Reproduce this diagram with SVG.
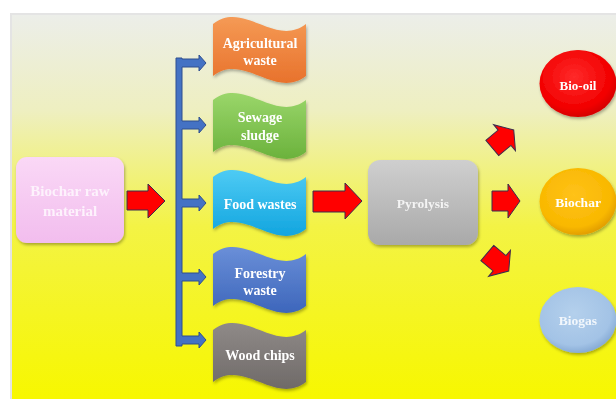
<svg xmlns="http://www.w3.org/2000/svg" width="616" height="399" viewBox="0 0 616 399">
<style>
.t{font-family:"Liberation Serif","Times New Roman",serif;font-weight:bold;fill:#ffffff;text-anchor:middle;dominant-baseline:central}
.ra{fill:#ff0000;stroke:#3b2d4f;stroke-width:1}
.ba{fill:#4472c4;stroke:#2f4f8f;stroke-width:1}
</style>
<defs>
<linearGradient id="bg" x1="0" y1="0" x2="0" y2="1">
<stop offset="0" stop-color="#eceee9"/>
<stop offset="0.25" stop-color="#eeefc0"/>
<stop offset="0.55" stop-color="#f3f345"/>
<stop offset="1" stop-color="#f7f700"/>
</linearGradient>
<linearGradient id="gPink" x1="0" y1="0" x2="0" y2="1"><stop offset="0" stop-color="#fad8f6"/><stop offset="1" stop-color="#f2bdee"/></linearGradient>
<linearGradient id="gGray" x1="0" y1="0" x2="0" y2="1"><stop offset="0" stop-color="#cfcfcf"/><stop offset="1" stop-color="#a9a9a9"/></linearGradient>
<linearGradient id="gOr" x1="0" y1="0" x2="0" y2="1"><stop offset="0" stop-color="#f59a55"/><stop offset="1" stop-color="#e8722c"/></linearGradient>
<linearGradient id="gGr" x1="0" y1="0" x2="0" y2="1"><stop offset="0" stop-color="#9ad66a"/><stop offset="1" stop-color="#6bb23c"/></linearGradient>
<linearGradient id="gCy" x1="0" y1="0" x2="0" y2="1"><stop offset="0" stop-color="#4ecbf4"/><stop offset="1" stop-color="#12a5df"/></linearGradient>
<linearGradient id="gBl" x1="0" y1="0" x2="0" y2="1"><stop offset="0" stop-color="#6a8fd8"/><stop offset="1" stop-color="#3d66bb"/></linearGradient>
<linearGradient id="gWd" x1="0" y1="0" x2="0" y2="1"><stop offset="0" stop-color="#8f8a88"/><stop offset="1" stop-color="#6f6a68"/></linearGradient>
<radialGradient id="gRed" cx="0.45" cy="0.4" r="0.6"><stop offset="0" stop-color="#ff2a2a"/><stop offset="0.8" stop-color="#f20000"/><stop offset="1" stop-color="#d60000"/></radialGradient>
<radialGradient id="gYel" cx="0.45" cy="0.4" r="0.6"><stop offset="0" stop-color="#ffc21a"/><stop offset="0.8" stop-color="#f9b800"/><stop offset="1" stop-color="#e39f00"/></radialGradient>
<radialGradient id="gSky" cx="0.45" cy="0.4" r="0.6"><stop offset="0" stop-color="#b4d0ec"/><stop offset="0.8" stop-color="#a3c3e6"/><stop offset="1" stop-color="#88acd6"/></radialGradient>
<filter id="sh" x="-20%" y="-20%" width="140%" height="150%"><feDropShadow dx="1" dy="2" stdDeviation="1.5" flood-color="#000" flood-opacity="0.3"/></filter>
<path id="flag" d="M-46.5,-26 C-15.5,-50 15.5,-2 46.5,-26 L46.5,26 C15.5,50 -15.5,2 -46.5,26 Z"/>
<path id="rarrow" d="M-14,-10 L2,-10 L2,-17 L14,0 L2,17 L2,10 L-14,10 Z"/>
</defs>
<rect x="0" y="0" width="616" height="399" fill="#ffffff"/>
<rect x="10" y="13" width="606" height="386" fill="#e4e4e4"/>
<rect x="12" y="15" width="604" height="384" fill="url(#bg)"/>
<g id="raw-material" filter="url(#sh)">
<rect x="16" y="157" width="108" height="86" rx="11" fill="url(#gPink)"/>
<text class="t" x="70" y="191" font-size="15" style="fill:#fdf2fc">Biochar raw</text>
<text class="t" x="70" y="211" font-size="15" style="fill:#fdf2fc">material</text>
</g>
<g id="agricultural-waste" filter="url(#sh)">
<use href="#flag" x="259.5" y="50" fill="url(#gOr)"/>
<text class="t" x="260" y="43" font-size="14">Agricultural</text>
<text class="t" x="260" y="60" font-size="14">waste</text>
</g>
<g id="sewage-sludge" filter="url(#sh)">
<use href="#flag" x="259.5" y="126" fill="url(#gGr)"/>
<text class="t" x="260" y="117" font-size="14">Sewage</text>
<text class="t" x="260" y="135" font-size="14">sludge</text>
</g>
<g id="food-wastes" filter="url(#sh)">
<use href="#flag" x="259.5" y="203" fill="url(#gCy)"/>
<text class="t" x="260" y="204" font-size="14">Food wastes</text>
</g>
<g id="forestry-waste" filter="url(#sh)">
<use href="#flag" x="259.5" y="280" fill="url(#gBl)"/>
<text class="t" x="260" y="273" font-size="14">Forestry</text>
<text class="t" x="260" y="290" font-size="14">waste</text>
</g>
<g id="wood-chips" filter="url(#sh)">
<use href="#flag" x="259.5" y="356" fill="url(#gWd)"/>
<text class="t" x="260" y="355" font-size="14">Wood chips</text>
</g>
<g id="pyrolysis" filter="url(#sh)">
<rect x="368" y="160" width="110" height="85" rx="12" fill="url(#gGray)"/>
<text class="t" x="423" y="203" font-size="13.5" style="fill:#f4f4f4">Pyrolysis</text>
</g>
<g id="bio-oil" filter="url(#sh)">
<ellipse cx="578" cy="83.5" rx="38.5" ry="33.5" fill="url(#gRed)"/>
<text class="t" x="578" y="85" font-size="13">Bio-oil</text>
</g>
<g id="biochar" filter="url(#sh)">
<ellipse cx="578" cy="201.5" rx="38.5" ry="33.5" fill="url(#gYel)"/>
<text class="t" x="578" y="202" font-size="13.5">Biochar</text>
</g>
<g id="biogas" filter="url(#sh)">
<ellipse cx="578" cy="320" rx="38.5" ry="33" fill="url(#gSky)"/>
<text class="t" x="578" y="320" font-size="13.5" style="fill:#f2f7fc">Biogas</text>
</g>
<g id="connectors">
<path class="ra" d="M127,191 L148,191 L148,184 L165,201 L148,218 L148,210 L127,210 Z"/>
<path class="ba" d="M176,58 L182,58 L182,59 L199,59 L199,55 L206,63 L199,71 L199,67 L182,67 L182,121 L199,121 L199,117 L206,125 L199,133 L199,129 L182,129 L182,199 L199,199 L199,195 L206,203 L199,211 L199,207 L182,207 L182,273 L199,273 L199,269 L206,277 L199,285 L199,281 L182,281 L182,336 L199,336 L199,332 L206,340 L199,348 L199,344 L182,344 L182,346 L176,346 Z"/>
<path class="ra" d="M313,191 L345,191 L345,183 L362,201 L345,219 L345,212 L313,212 Z"/>
<use href="#rarrow" class="ra" transform="translate(506,201)"/>
<use href="#rarrow" class="ra" transform="translate(503,139) rotate(-40)"/>
<use href="#rarrow" class="ra" transform="translate(498,262) rotate(40)"/>
</g>
</svg>
